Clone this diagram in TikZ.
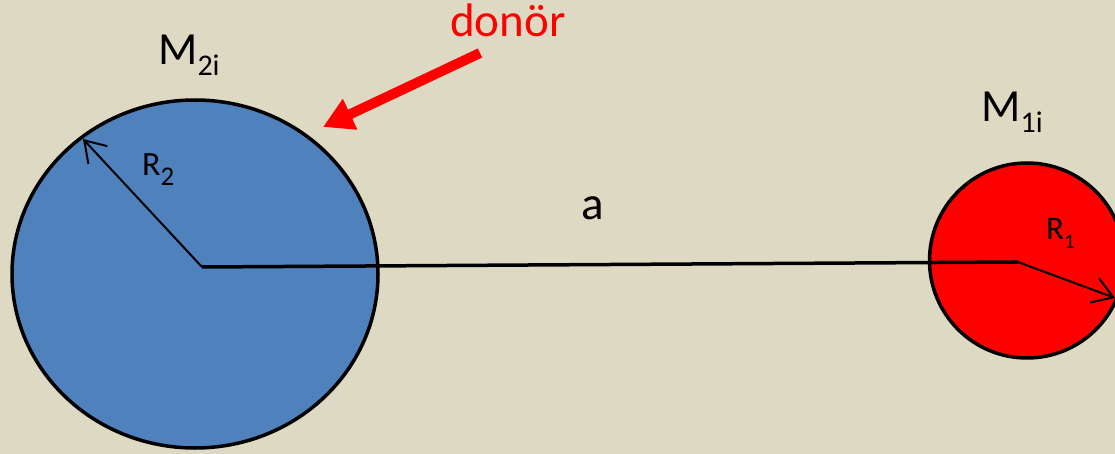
\documentclass[tikz,border=0pt]{standalone}
\usepackage{fontspec}
\setmainfont{Carlito}
\usetikzlibrary{arrows.meta,shapes.geometric}
\definecolor{bgtan}{HTML}{DDD9C3}
\definecolor{starblue}{HTML}{4F81BD}
\definecolor{starred}{HTML}{FF0000}
\newcommand{\mysubtxt}[3]{\raisebox{-#2}{\fontsize{#3}{#3}\selectfont #1}}
\begin{document}
\begin{tikzpicture}[x=1pt,y=-1pt,
  star/.style={ellipse,draw=black,line width=3.5pt,inner sep=0pt},
  thinarrow/.style={line width=2pt,-{Straight Barb[length=20pt,width=26pt,line width=2pt]}},
  lbl/.style={anchor=base west,inner sep=0pt,text=black}]
\useasboundingbox (0,0) rectangle (1115,454);
\fill[bgtan] (0,0) rectangle (1115,454);
\clip (0,0) rectangle (1115,454);
% stars
\node[star,fill=starblue,minimum width=366pt,minimum height=348pt] (donor) at (195,274) {};
\node[star,fill=starred,minimum width=195pt,minimum height=195pt] (acc) at (1027,260.5) {};
% centres and radius tips
\coordinate (c2) at (202,267);
\coordinate (c1) at (1018,262);
\coordinate (r2tip) at (83,139);
\coordinate (r1tip) at (1115,298);
% separation line
\draw[line width=3.5pt] (c2) -- (c1);
% radii
\draw[thinarrow] (c2) -- (r2tip);
\draw[thinarrow] (c1) -- (r1tip);
% labels
\node[lbl,font=\fontsize{46pt}{46pt}\selectfont] (m2) at (158,65) {M\mysubtxt{2i}{11pt}{30pt}};
\node[lbl,font=\fontsize{46pt}{46pt}\selectfont] (m1) at (981,122) {M\mysubtxt{1i}{11pt}{30pt}};
\node[lbl,font=\fontsize{34pt}{34pt}\selectfont] (r2) at (142,176) {R\mysubtxt{2}{10pt}{27pt}};
\node[lbl,font=\fontsize{33pt}{33pt}\selectfont] (r1) at (1046,240) {R\mysubtxt{1}{9pt}{21pt}};
\node[lbl,font=\fontsize{47pt}{47pt}\selectfont] (a) at (581,220) {a};
% donor arrow
\node[lbl,text=starred,font=\fontsize{47pt}{47pt}\selectfont] (dlabel) at (450,37) {donör};
\coordinate (dtail) at (480,53);
\coordinate (dtip) at (323,127);
\draw[starred,line width=10pt,-{Triangle[length=30pt,width=32pt]}] (dtail) -- (dtip);
\end{tikzpicture}
\end{document}
